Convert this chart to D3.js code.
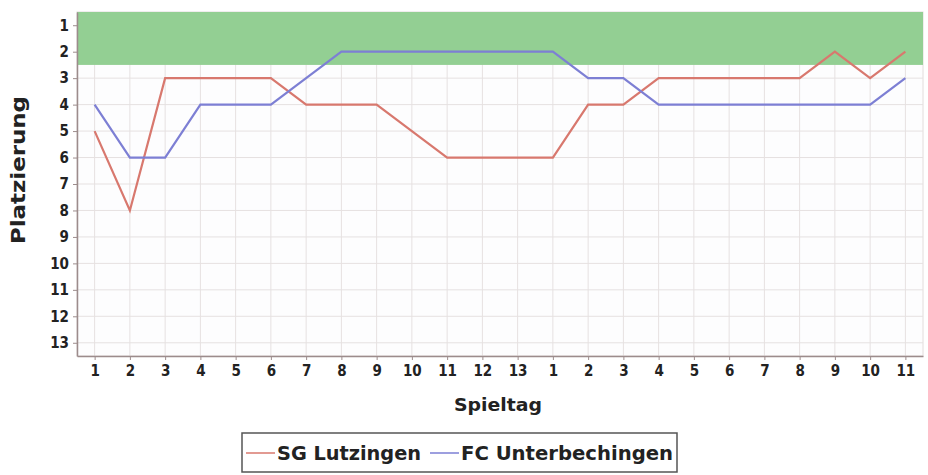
<!DOCTYPE html>
<html>
<head>
<meta charset="utf-8">
<script src="https://cdn.jsdelivr.net/npm/d3@7"></script>
<style>
    body { margin: 0; background: #fff; }
    svg { display: block; font-family: "DejaVu Sans", sans-serif; }
</style>
</head>
<body>
<script>
// match days: first round 1..13, second round 1..11
const SPIELTAGE = ["1","2","3","4","5","6","7","8","9","10","11","12","13",
                   "1","2","3","4","5","6","7","8","9","10","11"];
const RANKS = [1,2,3,4,5,6,7,8,9,10,11,12,13];
const SG_LUTZINGEN = [5,8,3,3,3,3,4,4,4,5,6,6,6,6,4,4,3,3,3,3,3,2,3,2];
const FC_UNTERBECHINGEN = [4,6,6,4,4,4,3,2,2,2,2,2,2,2,3,3,4,4,4,4,4,4,4,3];
const TEAMS = ["SG Lutzingen", "FC Unterbechingen"];
const TOP_ZONE = [0.5, 2.5];

const width = 928, height = 475;
const margin = {top: 12, right: 5, bottom: 119, left: 77};
const condensed = "'DejaVu Sans Condensed', 'DejaVu Sans', sans-serif";

const svg = d3.select("body").append("svg")
    .attr("width", width)
    .attr("height", height);

const x = d3.scalePoint()
    .domain(d3.range(SPIELTAGE.length))
    .range([margin.left, width - margin.right])
    .padding(0.5);

const y = d3.scaleLinear()
    .domain([0.5, 13.5])
    .range([margin.top, height - margin.bottom]);

// plot background
svg.append("rect")
    .attr("x", margin.left).attr("y", margin.top)
    .attr("width", width - margin.right - margin.left)
    .attr("height", y(13.5) - y(0.5))
    .attr("fill", "#fdfdfe")
    .attr("stroke", "#e2dcdc");

// grid
svg.append("g")
    .selectAll("line")
    .data(d3.range(SPIELTAGE.length))
    .join("line")
    .attr("x1", d => x(d)).attr("x2", d => x(d))
    .attr("y1", margin.top).attr("y2", y(13.5))
    .attr("stroke", "#e6e1e1");
svg.append("g")
    .selectAll("line")
    .data(RANKS)
    .join("line")
    .attr("x1", margin.left).attr("x2", width - margin.right)
    .attr("y1", d => y(d)).attr("y2", d => y(d))
    .attr("stroke", "#e6e1e1");

// promotion zone
svg.append("rect")
    .attr("x", margin.left).attr("y", y(TOP_ZONE[0]))
    .attr("width", width - margin.right - margin.left)
    .attr("height", y(TOP_ZONE[1]) - y(TOP_ZONE[0]))
    .attr("fill", "#93cf93");

// axes
const xAxis = d3.axisBottom(x)
    .tickFormat(i => SPIELTAGE[i])
    .tickSize(4)
    .tickSizeOuter(0);
const gx = svg.append("g")
    .attr("transform", `translate(0, ${y(13.5)})`)
    .call(xAxis);
gx.select(".domain").attr("stroke", "#9c8c8c").attr("stroke-width", 1.5);
gx.selectAll(".tick line").attr("stroke", "#9c8c8c");
gx.selectAll(".tick text")
    .attr("y", 9)
    .attr("fill", "#222")
    .style("font-size", "15px")
    .style("font-weight", "bold")
    .style("font-family", condensed);

const yAxis = d3.axisLeft(y)
    .tickValues(RANKS)
    .tickFormat(d3.format("d"))
    .tickSize(4)
    .tickSizeOuter(0);
const gy = svg.append("g")
    .attr("transform", `translate(${margin.left}, 0)`)
    .call(yAxis);
gy.select(".domain").attr("stroke", "#9c8c8c").attr("stroke-width", 1.5);
gy.selectAll(".tick line").attr("stroke", "#9c8c8c");
gy.selectAll(".tick text")
    .attr("x", -8)
    .attr("fill", "#222")
    .style("font-size", "15px")
    .style("font-weight", "bold")
    .style("font-family", condensed);

// axis titles
svg.append("text")
    .attr("x", 498)
    .attr("y", 411)
    .attr("text-anchor", "middle")
    .attr("fill", "#222")
    .attr("textLength", 88)
    .attr("lengthAdjust", "spacingAndGlyphs")
    .style("font-size", "18px")
    .style("font-weight", "bold")
    .style("font-family", condensed)
    .text("Spieltag");
svg.append("text")
    .attr("transform", `translate(25, 170) rotate(-90)`)
    .attr("text-anchor", "middle")
    .attr("fill", "#222")
    .attr("textLength", 148)
    .attr("lengthAdjust", "spacingAndGlyphs")
    .style("font-size", "19px")
    .style("font-weight", "bold")
    .style("font-family", condensed)
    .text("Platzierung");

// lines
const line = d3.line()
    .x((d, i) => x(i))
    .y(d => y(d));
const COLORS = ["#d8786e", "#7d7fd4"];
[SG_LUTZINGEN, FC_UNTERBECHINGEN].forEach((series, k) => {
    svg.append("path")
        .datum(series)
        .attr("fill", "none")
        .attr("stroke", COLORS[k])
        .attr("stroke-width", 2.2)
        .attr("d", line);
});

// legend
const legend = svg.append("g");
legend.append("rect")
    .attr("x", 242).attr("y", 433)
    .attr("width", 435).attr("height", 39)
    .attr("fill", "#fff")
    .attr("stroke", "#555")
    .attr("stroke-width", 1.5);
const items = [
    {name: TEAMS[0], color: COLORS[0], x: 246, len: 144},
    {name: TEAMS[1], color: COLORS[1], x: 430, len: 212}
];
items.forEach(it => {
    legend.append("line")
        .attr("x1", it.x).attr("x2", it.x + 29)
        .attr("y1", 453).attr("y2", 453)
        .attr("stroke", it.color)
        .attr("stroke-width", 1.5);
    legend.append("text")
        .attr("x", it.x + 31)
        .attr("y", 460)
        .attr("fill", "#222")
        .attr("textLength", it.len)
        .attr("lengthAdjust", "spacingAndGlyphs")
        .style("font-size", "19px")
        .style("font-weight", "bold")
        .style("font-family", condensed)
        .text(it.name);
});
</script>
</body>
</html>
